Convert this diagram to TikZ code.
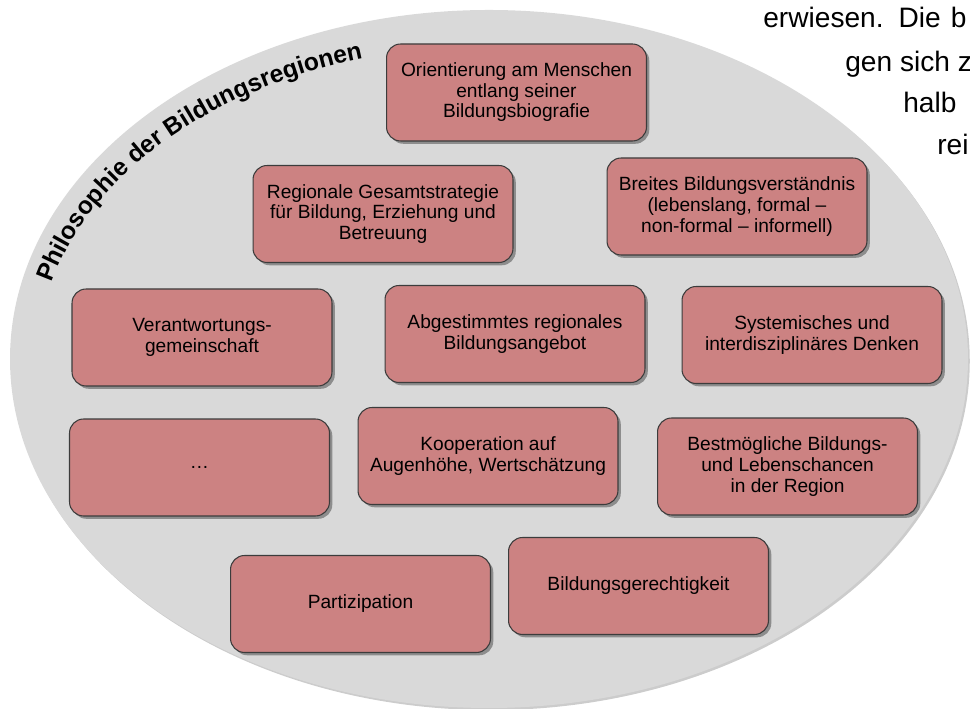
\documentclass[tikz,border=0pt]{standalone}
\usepackage{fontspec}
\setmainfont{Liberation Sans}
\usetikzlibrary{shadows,decorations.text}
\definecolor{boxred}{RGB}{204,130,130}
\definecolor{ellgrey}{RGB}{217,217,217}
\definecolor{boxline}{RGB}{60,60,60}

\begin{document}
\begin{tikzpicture}[x=0.02cm,y=0.02cm,font=\fontsize{10.9}{11.7}\selectfont,
 box/.style={draw=boxline,line width=0.6pt,rounded corners=8pt,fill=boxred,
  minimum width=5.2cm,minimum height=1.94cm,align=center,inner sep=2pt,
  drop shadow={shadow xshift=1.6pt,shadow yshift=-1.6pt,fill=black,opacity=0.35}},
 pagetext/.style={font=\fontsize{16}{16}\selectfont,anchor=base west,inner sep=0pt}]
\useasboundingbox (0,0) rectangle (970,709);
% background ellipse
\fill[ellgrey,drop shadow={shadow xshift=1pt,shadow yshift=-1.2pt,fill=black!40,opacity=0.5}]
 (489,350) ellipse [x radius=479,y radius=349];
\path[decorate,decoration={text along path,text align=center,
 text={|\fontsize{14}{15}\selectfont\bfseries|Philosophie der Bildungsregionen}}]
 (489,350) ++(169:451 and 313) arc[start angle=169,end angle=104,x radius=451,y radius=313];
% boxes
\node[box] (orient) at (516.5,616.5) {Orientierung am Menschen\\entlang seiner\\Bildungsbiografie};
\node[box] (strat) at (383,495) {Regionale Gesamtstrategie\\für Bildung, Erziehung und\\Betreuung};
\node[box] (verst) at (737,502.5) {Breites Bildungsverständnis\\(lebenslang, formal –\\non-formal – informell)};
\node[box] (verant) at (202,371.5) {Verantwortungs-\\gemeinschaft};
\node[box] (angebot) at (515,375) {Abgestimmtes regionales\\Bildungsangebot};
\node[box] (denken) at (812,374) {Systemisches und\\interdisziplinäres Denken};
\node[box] (dots) at (199.5,241.5) {…};
\node[box] (koop) at (488,253) {Kooperation auf\\Augenhöhe, Wertschätzung};
\node[box] (chancen) at (787.5,242.5) {Bestmögliche Bildungs-\\und Lebenschancen\\in der Region};
\node[box] (partiz) at (360.5,105) {Partizipation};
\node[box] (gerecht) at (638.5,123) {Bildungsgerechtigkeit};
% text of the page behind
\node[pagetext] (line1) at (763,681) {erwiesen.\hspace{0.3cm}Die\hspace{0.2cm}b};
\node[pagetext] (line2) at (845,637) {gen sich z};
\node[pagetext] (line3) at (903,596) {halb};
\node[pagetext] (line4) at (937,554) {rei};
\end{tikzpicture}
\end{document}
